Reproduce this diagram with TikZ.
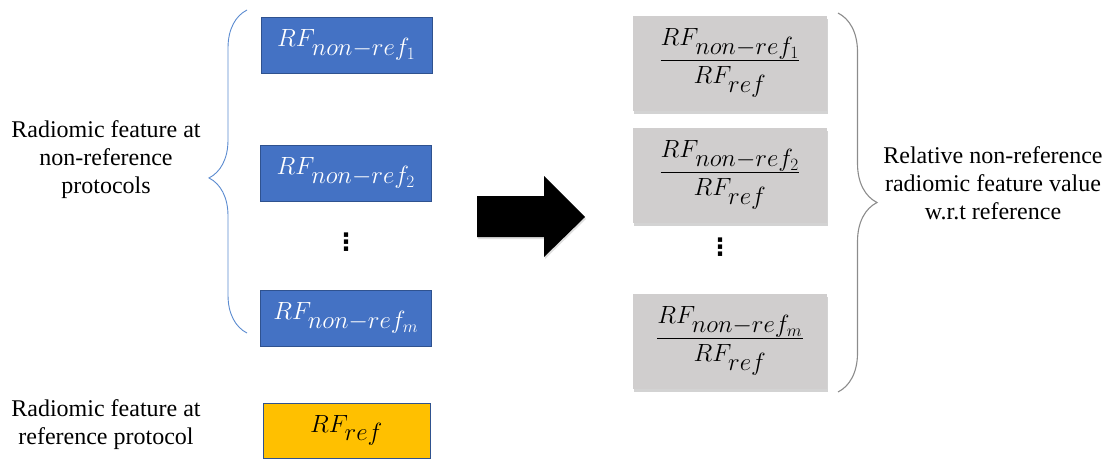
\documentclass[tikz,border=0pt]{standalone}
\usepackage{fontspec}
\setmainfont{Liberation Serif}
\newfontfamily\dotsfont{DejaVu Sans}
\usetikzlibrary{decorations.pathreplacing,shadows}
\DeclareMathSizes{28}{28}{24}{17}
\definecolor{featblue}{HTML}{4472C4}
\definecolor{featedge}{HTML}{2F528F}
\definecolor{refyellow}{HTML}{FFC000}
\definecolor{ratiogray}{HTML}{D0CECE}
\definecolor{bracegray}{HTML}{8C8C8C}
\definecolor{braceblue}{HTML}{5B8BD0}

\begin{document}
\begin{tikzpicture}[x=1pt, y=-1pt]
        \tikzstyle{feat}=[draw=featedge, fill=featblue, text=white, line width=0.8pt, minimum width=171, minimum height=56, font=\fontsize{28}{32}\selectfont]
        \tikzstyle{refbox}=[draw=featedge, fill=refyellow, line width=0.8pt, minimum width=167, minimum height=55, font=\fontsize{28}{32}\selectfont]
        \tikzstyle{ratio}=[fill=ratiogray, minimum width=194, minimum height=95, font=\fontsize{28}{32}\selectfont, drop shadow={opacity=0.35, shadow xshift=1pt, shadow yshift=-3pt}]
        \tikzstyle{caption}=[align=center, font=\fontsize{24}{28}\selectfont]
        \tikzstyle{vdot}=[font=\dotsfont\bfseries\fontsize{24}{28}\selectfont]

        \useasboundingbox (0,0) rectangle (1110,459);

        % left column
        \node[feat](f-1) at (346.5, 45){$RF_{non-ref_1}$};
        \node[feat](f-2) at (346, 173){$RF_{non-ref_2}$};
        \node[vdot](fdots) at (346, 242){⋮};
        \node[feat](f-m) at (346, 318){$RF_{non-ref_m}$};
        \node[refbox](fref) at (346.5, 430.5){$RF_{ref}$};

        \node[caption](lab-nonref) at (106, 160){Radiomic feature at\\non-reference\\protocols};
        \node[caption](lab-ref) at (106, 425){Radiomic feature at\\reference protocol};

        % right column
        \node[ratio](r-1) at (730, 63){$\displaystyle\frac{RF_{non-ref_1}}{RF_{ref}}$};
        \node[ratio](r-2) at (730, 175){$\displaystyle\frac{RF_{non-ref_2}}{RF_{ref}}$};
        \node[vdot](rdots) at (720, 247){⋮};
        \node[ratio](r-m) at (730, 341){$\displaystyle\frac{RF_{non-ref_m}}{RF_{ref}}$};

        \node[caption](lab-rel) at (993, 183){Relative non-reference\\radiomic feature value\\w.r.t reference};

        % braces
        \draw[braceblue, line width=0.9pt, decorate, decoration={brace, amplitude=38pt, aspect=0.48}] (247, 333) -- (247, 10);
        \draw[bracegray, line width=1.1pt, decorate, decoration={brace, amplitude=39pt, aspect=0.5}] (838, 13) -- (838, 392);

        % big arrow
        \fill[black, drop shadow={opacity=0.25, shadow xshift=1pt, shadow yshift=-2pt}]
            (477,196) -- (544,196) -- (544,176) -- (585,217) -- (544,257) -- (544,237) -- (477,237) -- cycle;

        \end{tikzpicture}
\end{document}
